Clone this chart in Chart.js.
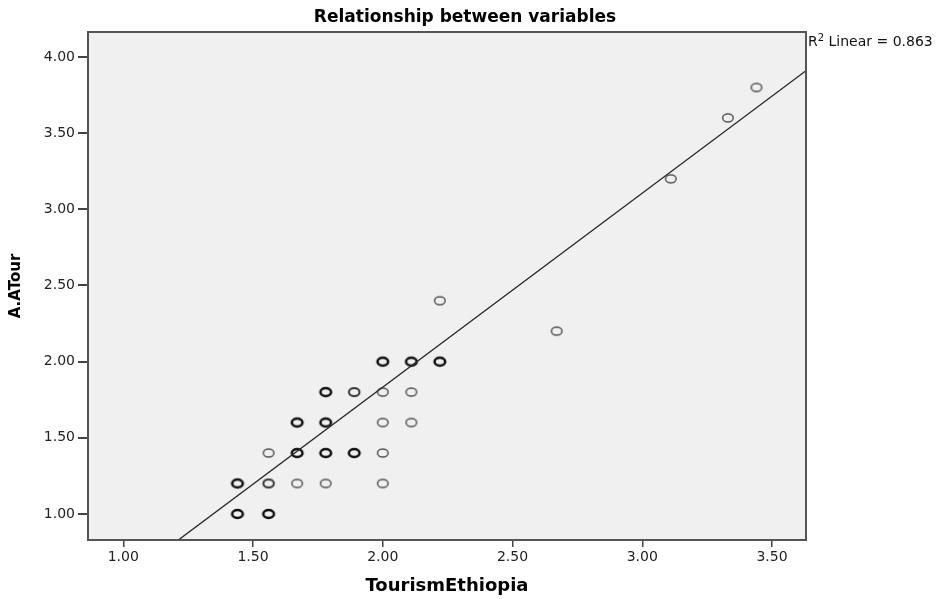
<!DOCTYPE html>
<html>
<head>
<meta charset="utf-8">
<script src="https://cdn.jsdelivr.net/npm/chart.js@4.4.0/dist/chart.umd.min.js"></script>
<style>
  html, body { margin: 0; padding: 0; background: #fff; }
  #wrap { width: 937px; height: 599px; }
</style>
</head>
<body>
<div id="wrap"><canvas id="scatter" width="937" height="599"></canvas></div>
<script>
// values (x steps of 1/9, y steps of 0.2)
const tourismEthiopia = [1.44, 1.56, 1.44, 1.56, 1.67, 1.78, 2.00, 1.56, 1.67, 1.78, 1.89, 2.00, 1.67, 1.78,
                         2.00, 2.11, 1.78, 1.89, 2.00, 2.11, 2.00, 2.11, 2.22, 2.22, 2.67, 3.11, 3.33, 3.44];
const aaTour = [1.0, 1.0, 1.2, 1.2, 1.2, 1.2, 1.2, 1.4, 1.4, 1.4, 1.4, 1.4, 1.6, 1.6,
                1.6, 1.6, 1.8, 1.8, 1.8, 1.8, 2.0, 2.0, 2.0, 2.4, 2.2, 3.2, 3.6, 3.8];
// how dark the ring looks (overlapping cases)
const overlap = [3, 3, 3, 2, 1, 1, 1, 1, 3, 3, 3, 1, 3, 3,
                 1, 1, 3, 2, 1, 1, 3, 3, 3, 1, 1, 1, 1, 1];
const fitX = [1.212, 3.631];
const fitY = [0.829, 3.910];
const xTicks = [1.0, 1.5, 2.0, 2.5, 3.0, 3.5];
const yTicks = [1.0, 1.5, 2.0, 2.5, 3.0, 3.5, 4.0];
const rSquared = 0.863;
const chartTitle = 'Relationship between variables';

Chart.defaults.font.family = 'DejaVu Sans';

function ringMarker(lineWidth, color) {
    const c = document.createElement('canvas');
    c.width = 16;
    c.height = 14;
    const g = c.getContext('2d');
    g.strokeStyle = color;
    g.lineWidth = lineWidth;
    g.beginPath();
    g.ellipse(8, 7, 5.3, 4, 0, 0, Math.PI * 2);
    g.stroke();
    return c;
}
const rings = { 1: ringMarker(1.5, '#555'), 2: ringMarker(2, '#333'), 3: ringMarker(2.6, '#111') };

const plotFrame = {
    id: 'plotFrame',
    beforeDraw(chart) {
        const { ctx, chartArea: a } = chart;
        ctx.save();
        ctx.fillStyle = '#f0f0f0';
        ctx.fillRect(a.left, a.top, a.right - a.left, a.bottom - a.top);
        ctx.restore();
    },
    afterDraw(chart) {
        const { ctx, chartArea: a } = chart;
        ctx.save();
        ctx.strokeStyle = '#555';
        ctx.lineWidth = 2;
        ctx.strokeRect(a.left, a.top, a.right - a.left, a.bottom - a.top);

        // title, sits a bit right of the plot centre like the original
        ctx.fillStyle = '#000';
        ctx.font = 'bold 17px "DejaVu Sans"';
        ctx.textAlign = 'center';
        ctx.textBaseline = 'middle';
        ctx.fillText(chartTitle, 465, 17.5);

        // R² label at the top right, outside the frame
        ctx.textAlign = 'left';
        ctx.textBaseline = 'alphabetic';
        let x = a.right + 2;
        const y = 46;
        ctx.fillStyle = '#111';
        ctx.font = '14px "DejaVu Sans"';
        ctx.fillText('R', x, y);
        x += ctx.measureText('R').width;
        ctx.font = '10px "DejaVu Sans"';
        ctx.fillText('2', x, y - 5);
        x += ctx.measureText('2').width;
        ctx.font = '14px "DejaVu Sans"';
        ctx.fillText(' Linear = ' + rSquared.toFixed(3), x, y);
        ctx.restore();
    }
};

const ctx = document.getElementById('scatter').getContext('2d');
const scatterChart = new Chart(ctx, {
    type: 'scatter',
    data: {
        datasets: [{
            label: 'cases',
            data: tourismEthiopia.map((x, i) => ({ x: x, y: aaTour[i] })),
            pointStyle: (c) => rings[overlap[c.dataIndex]],
            pointRadius: 5,
            order: 2
        }, {
            label: 'Linear fit',
            data: fitX.map((x, i) => ({ x: x, y: fitY[i] })),
            showLine: true,
            borderColor: '#2a2a2a',
            borderWidth: 1.4,
            pointRadius: 0,
            order: 1
        }]
    },
    options: {
        responsive: false,
        animation: false,
        layout: {
            padding: { left: 0, right: 131, top: 32, bottom: 0 }
        },
        plugins: {
            legend: { display: false },
            tooltip: { enabled: false },
            title: { display: false }
        },
        scales: {
            x: {
                type: 'linear',
                min: 0.864,
                max: 3.631,
                afterBuildTicks: (s) => { s.ticks = xTicks.map(v => ({ value: v })); },
                afterFit: (s) => { s.height = 59; },
                grid: { drawOnChartArea: false, drawTicks: true, tickLength: 7, color: '#444', lineWidth: 1.5 },
                border: { display: true, color: '#555', width: 2 },
                ticks: {
                    padding: 2,
                    color: '#222',
                    font: { size: 14 },
                    maxRotation: 0,
                    autoSkip: false,
                    callback: (v) => v.toFixed(2)
                },
                title: {
                    display: true,
                    text: 'TourismEthiopia',
                    color: '#000',
                    font: { size: 18, weight: 'bold' },
                    padding: { top: 0, bottom: 2 }
                }
            },
            y: {
                type: 'linear',
                min: 0.829,
                max: 4.164,
                afterBuildTicks: (s) => { s.ticks = yTicks.map(v => ({ value: v })); },
                afterFit: (s) => { s.width = 88; },
                grid: { drawOnChartArea: false, drawTicks: true, tickLength: 10, color: '#444', lineWidth: 2 },
                border: { display: true, color: '#555', width: 2 },
                ticks: {
                    padding: 3,
                    color: '#222',
                    font: { size: 14 },
                    autoSkip: false,
                    callback: (v) => v.toFixed(2)
                },
                title: {
                    display: true,
                    text: 'A.ATour',
                    color: '#000',
                    font: { size: 15, weight: 'bold' },
                    padding: { top: 7, bottom: 0 }
                }
            }
        }
    },
    plugins: [plotFrame]
});
</script>
</body>
</html>
